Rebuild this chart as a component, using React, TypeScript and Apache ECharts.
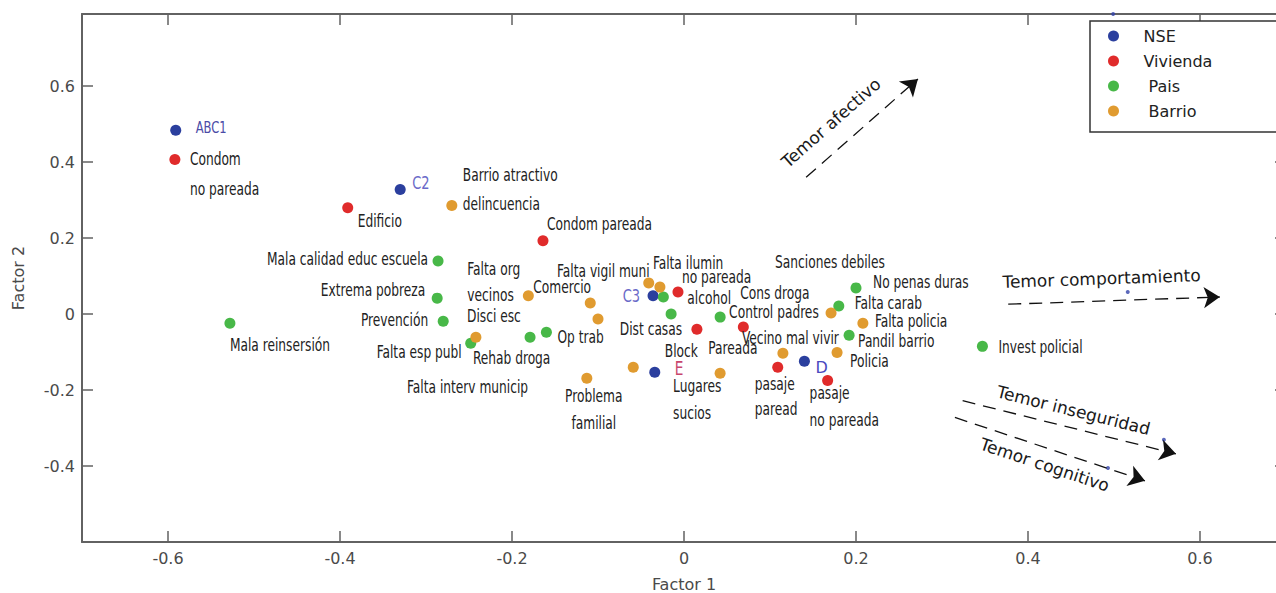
import React, { useEffect, useRef } from 'react';
import * as echarts from 'echarts';

// ---------- data ----------
const legendNames = ['NSE', 'Vivienda', 'Pais', 'Barrio'];

const nseNames = ['ABC1', 'C2', 'C3', 'D', 'E'];
const nseX = [-0.591, -0.33, -0.036, 0.14, -0.034];
const nseY = [0.484, 0.328, 0.048, -0.124, -0.153];

const viviendaNames = ['Condom\nno pareada', 'Edificio', 'Condom pareada', 'no pareada', 'Block', 'Pareada', 'pasaje\nparead', 'pasaje\nno pareada'];
const viviendaX = [-0.592, -0.391, -0.164, -0.007, 0.015, 0.069, 0.109, 0.167];
const viviendaY = [0.407, 0.28, 0.193, 0.058, -0.04, -0.034, -0.14, -0.175];

const paisNames = ['Mala reinsersión', 'Mala calidad educ escuela', 'Extrema pobreza', 'Prevención', 'Falta esp publ', 'Falta interv municip', 'Op trab', 'alcohol', 'Dist casas', 'Control padres', 'Falta carab', 'No penas duras', 'Pandil barrio', 'Invest policial'];
const paisX = [-0.528, -0.286, -0.287, -0.28, -0.248, -0.179, -0.16, -0.024, -0.015, 0.042, 0.18, 0.2, 0.192, 0.347];
const paisY = [-0.024, 0.14, 0.042, -0.019, -0.077, -0.061, -0.048, 0.045, 0.0, -0.008, 0.021, 0.069, -0.056, -0.085];

const barrioNames = ['Barrio atractivo\ndelincuencia', 'Rehab droga', 'Falta org\nvecinos', 'Comercio', 'Disci esc', 'Problema\nfamilial', 'Cons droga', 'Falta vigil muni', 'Falta ilumin', 'Lugares\nsucios', 'Vecino mal vivir', 'Sanciones debiles', 'Falta policia', 'Policia'];
const barrioX = [-0.27, -0.242, -0.181, -0.109, -0.1, -0.113, -0.059, -0.041, -0.028, 0.042, 0.115, 0.171, 0.208, 0.178];
const barrioY = [0.286, -0.061, 0.048, 0.029, -0.013, -0.169, -0.14, 0.082, 0.071, -0.156, -0.103, 0.003, -0.024, -0.101];

// small loading points of the "Temor" vectors
const temorX = [0.499, 0.516, 0.558, 0.493];
const temorY = [0.79, 0.058, -0.331, -0.405];

const arrowNames = ['Temor afectivo', 'Temor comportamiento', 'Temor inseguridad', 'Temor cognitivo'];
const arrowStart = [[0.142, 0.36], [0.377, 0.026], [0.324, -0.228], [0.315, -0.272]];
const arrowEnd = [[0.272, 0.619], [0.623, 0.045], [0.572, -0.368], [0.536, -0.439]];

// ---------- layout / styles ----------
const COND = '"DejaVu Sans Condensed", "Liberation Sans Narrow", sans-serif';
const SANS = '"DejaVu Sans", Verdana, sans-serif';

const colors: Record<string, string> = {
  NSE: '#2b3f9e',
  Vivienda: '#e02b2b',
  Pais: '#48b848',
  Barrio: '#e09b30',
};

// label anchor offset from point centre [dx, dy, align, lineHeight]
const labelLayout: Record<string, [number, number, string, number?]> = {
  ABC1: [20, -3, 'left'],
  C2: [12, -6, 'left'],
  C3: [-13, 0, 'right'],
  D: [11, 6, 'left'],
  E: [20, -4, 'left'],
  'Condom\nno pareada': [15, 15, 'left', 30],
  Edificio: [10, 14, 'left'],
  'Condom pareada': [4, -16, 'left'],
  'no pareada': [4, -15, 'left'],
  Block: [1, 22, 'right'],
  Pareada: [-35, 21, 'left'],
  'pasaje\nparead': [-23, 30, 'left', 25],
  'pasaje\nno pareada': [-18, 26, 'left', 27],
  'Mala reinsersión': [0, 22, 'left'],
  'Mala calidad educ escuela': [-10, -1, 'right'],
  'Extrema pobreza': [-12, -8, 'right'],
  'Prevención': [-15, -1, 'right'],
  'Falta esp publ': [-9, 9, 'right'],
  'Falta interv municip': [-123, 50, 'left'],
  'Op trab': [11, 5, 'left'],
  alcohol: [24, 1, 'left'],
  'Dist casas': [11, 15, 'right'],
  'Control padres': [9, -5, 'left'],
  'Falta carab': [16, -3, 'left'],
  'No penas duras': [17, -5, 'left'],
  'Pandil barrio': [9, 6, 'left'],
  'Invest policial': [16, 1, 'left'],
  'Barrio atractivo\ndelincuencia': [11, -15, 'left', 29],
  'Rehab droga': [-3, 21, 'left'],
  'Falta org\nvecinos': [-61, -13, 'left', 26],
  Comercio: [-57, -16, 'left'],
  'Disci esc': [-131, -3, 'left'],
  'Problema\nfamilial': [7, 32, 'center', 27],
  'Cons droga': [107, -74, 'left'],
  'Falta vigil muni': [1, -11, 'right'],
  'Falta ilumin': [-7, -24, 'left'],
  'Lugares\nsucios': [-47, 27, 'left', 27],
  'Vecino mal vivir': [-41, -15, 'left'],
  'Sanciones debiles': [-56, -50, 'left'],
  'Falta policia': [12, -2, 'left'],
  Policia: [13, 9, 'left'],
};

const baseLabelStyle = { color: '#222222', fontFamily: COND, fontSize: 17, scaleX: 0.8 };
const nseLabelStyle: Record<string, any> = {
  ABC1: { color: '#4b4ba6', fontFamily: COND, fontSize: 16, scaleX: 0.8 },
  C2: { color: '#6a6ac8', fontFamily: COND, fontSize: 17, scaleX: 0.85 },
  C3: { color: '#6a6ac8', fontFamily: COND, fontSize: 17, scaleX: 0.85 },
  D: { color: '#4a4abf', fontFamily: SANS, fontSize: 16, scaleX: 1 },
  E: { color: '#c8456c', fontFamily: COND, fontSize: 19, scaleX: 0.8 },
};

// arrow label placement [position, distanceAlong, distanceAcross]
const arrowLabelLayout: [string, number, number][] = [
  ['insideStartTop', -8, 16],
  ['insideStartTop', -5, 14],
  ['insideMiddleTop', 0, 9],
  ['insideMiddleBottom', 0, 8],
];

const axisLineStyle = { color: '#626262', width: 2 };
const tickStyle = { inside: true, length: 11, lineStyle: { color: '#626262', width: 1.5 } };
const axisText = { fontFamily: SANS, fontSize: 16, color: '#4a4a4a' };

function pointSeries(name: string, xs: number[], ys: number[]) {
  return {
    name,
    type: 'scatter',
    symbol: 'circle',
    symbolSize: 11,
    itemStyle: { color: colors[name], opacity: 1 },
    emphasis: { disabled: true },
    data: xs.map((x, i) => [x, ys[i]]),
    z: 3,
  };
}

function labelSeries(group: string, names: string[], xs: number[], ys: number[], special?: Record<string, any>) {
  return {
    name: group + ' labels',
    type: 'custom',
    coordinateSystem: 'cartesian2d',
    clip: false,
    silent: true,
    z: 5,
    encode: { x: 0, y: 1 },
    data: names.map((n, i) => [xs[i], ys[i], i]),
    renderItem: (_params: any, api: any) => {
      const i = api.value(2) as number;
      const n = names[i];
      const p = api.coord([api.value(0), api.value(1)]);
      const [dx, dy, align, lh] = labelLayout[n];
      const st = { ...baseLabelStyle, ...(special && special[n] ? special[n] : {}) };
      return {
        type: 'text',
        x: p[0] + dx,
        y: p[1] + dy,
        scaleX: st.scaleX,
        style: {
          text: n,
          fill: st.color,
          fontFamily: st.fontFamily,
          fontSize: st.fontSize,
          align,
          verticalAlign: 'middle',
          lineHeight: lh ?? 20,
        },
      };
    },
  };
}

export default function App() {
  const ref = useRef<HTMLDivElement>(null);

  useEffect(() => {
    if (!ref.current) return;
    const chart = echarts.init(ref.current, undefined, { renderer: 'svg' });

    const arrowData = arrowNames.map((n, i) => {
      const [pos, along, across] = arrowLabelLayout[i];
      return [
        {
          name: n,
          coord: arrowStart[i],
          label: { position: pos, distance: [along, across] },
        },
        { coord: arrowEnd[i] },
      ];
    });

    chart.setOption({
      animation: false,
      backgroundColor: '#ffffff',
      grid: { left: 82, top: 14, right: -10, bottom: 51, containLabel: false, outerBoundsMode: 'none' },
      legend: {
        orient: 'vertical',
        left: 1108,
        top: 27,
        padding: 0,
        itemWidth: 50,
        itemHeight: 11,
        itemGap: 7,
        icon: 'circle',
        selectedMode: false,
        z: 10,
        data: legendNames,
        formatter: (name: string) => (name === 'Pais' || name === 'Barrio' ? '\u00a0' + name : name),
        textStyle: { fontFamily: SANS, fontSize: 16, color: '#222', lineHeight: 18 },
      },
      graphic: [
        {
          type: 'rect',
          z: 3,
          shape: { x: 1090, y: 21, width: 230, height: 111 },
          style: { fill: '#ffffff', stroke: '#333333', lineWidth: 1.5 },
          silent: true,
        },
      ],
      xAxis: [
        {
          type: 'value',
          position: 'bottom',
          min: -0.7,
          max: 0.7,
          splitNumber: 7,
          axisLine: { show: true, onZero: false, lineStyle: axisLineStyle },
          axisTick: tickStyle,
          splitLine: { show: false },
          axisLabel: { ...axisText, margin: 8, showMinLabel: false, showMaxLabel: false },
          name: 'Factor 1',
          nameLocation: 'middle',
          nameGap: 34,
          nameTextStyle: axisText,
        },
        {
          type: 'value',
          position: 'top',
          min: -0.7,
          max: 0.7,
          splitNumber: 7,
          axisLine: { show: true, onZero: false, lineStyle: axisLineStyle },
          axisTick: tickStyle,
          splitLine: { show: false },
          axisLabel: { show: false },
        },
      ],
      yAxis: [
        {
          type: 'value',
          position: 'left',
          min: -0.6,
          max: 0.79,
          interval: 0.2,
          axisLine: { show: true, onZero: false, lineStyle: axisLineStyle },
          axisTick: tickStyle,
          splitLine: { show: false },
          axisLabel: { ...axisText, margin: 7, showMinLabel: false, showMaxLabel: false },
          name: 'Factor 2',
          nameLocation: 'middle',
          nameGap: 56,
          nameTextStyle: axisText,
        },
        {
          type: 'value',
          position: 'right',
          min: -0.6,
          max: 0.79,
          interval: 0.2,
          axisLine: { show: true, onZero: false, lineStyle: axisLineStyle },
          axisTick: tickStyle,
          splitLine: { show: false },
          axisLabel: { show: false },
        },
      ],
      series: [
        pointSeries('NSE', nseX, nseY),
        pointSeries('Vivienda', viviendaX, viviendaY),
        pointSeries('Pais', paisX, paisY),
        pointSeries('Barrio', barrioX, barrioY),
        labelSeries('NSE', nseNames, nseX, nseY, nseLabelStyle),
        labelSeries('Vivienda', viviendaNames, viviendaX, viviendaY),
        labelSeries('Pais', paisNames, paisX, paisY),
        labelSeries('Barrio', barrioNames, barrioX, barrioY),
        {
          name: 'Temor',
          type: 'scatter',
          symbol: 'circle',
          symbolSize: 4,
          itemStyle: { color: '#3344aa' },
          emphasis: { disabled: true },
          data: temorX.map((x, i) => [x, temorY[i]]),
          z: 2,
          markLine: {
            silent: true,
            animation: false,
            symbol: ['none', 'arrow'],
            symbolSize: 16,
            lineStyle: { color: '#111111', type: [13, 8], width: 1.3 },
            label: {
              show: true,
              formatter: '{b}',
              fontFamily: SANS,
              fontSize: 17,
              color: '#1a1a1a',
            },
            emphasis: { disabled: true },
            data: arrowData,
          },
        },
      ],
    });

    return () => chart.dispose();
  }, []);

  return (
    <div
      ref={ref}
      style={{ position: 'absolute', left: 0, top: 0, width: 1276, height: 593, background: '#fff' }}
    />
  );
}
